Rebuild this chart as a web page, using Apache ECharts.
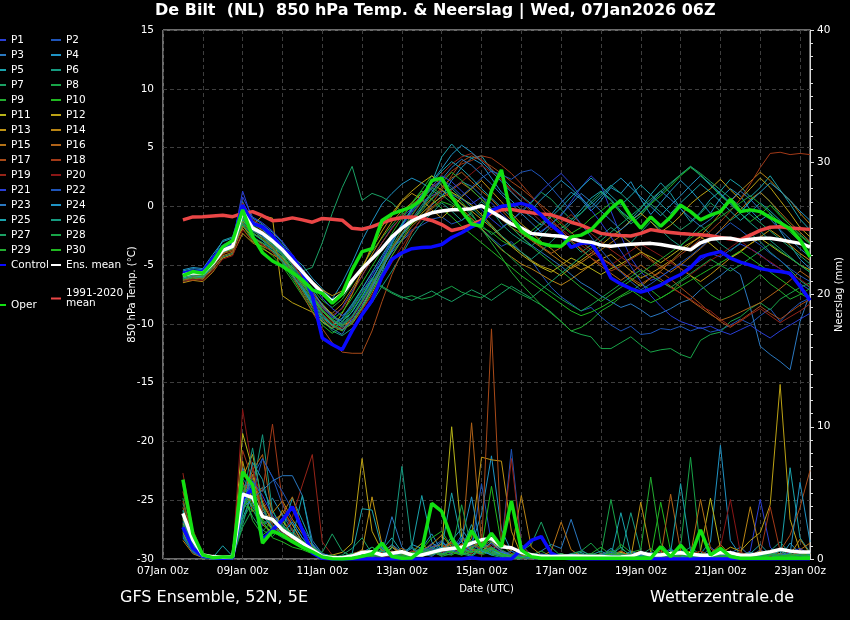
<!DOCTYPE html>
<html><head><meta charset="utf-8">
<script src="https://cdn.jsdelivr.net/npm/echarts@6/dist/echarts.min.js"></script>
<style>html,body{margin:0;padding:0;background:#000;}#c{width:850px;height:620px;}</style>
</head><body><div id="c"></div>
<script>
// lead time in hours from 07Jan2026 00Z
const leadHours = [12,18,24,30,36,42,48,54,60,66,72,78,84,90,96,102,108,114,120,126,132,138,144,150,156,162,168,174,180,186,192,198,204,210,216,222,228,234,240,246,252,258,264,270,276,282,288,294,300,306,312,318,324,330,336,342,348,354,360,366,372,378,384,390];
const xTickLabels = ['07Jan 00z','09Jan 00z','11Jan 00z','13Jan 00z','15Jan 00z','17Jan 00z','19Jan 00z','21Jan 00z','23Jan 00z'];
const memberNames = ['P1','P2','P3','P4','P5','P6','P7','P8','P9','P10','P11','P12','P13','P14','P15','P16','P17','P18','P19','P20','P21','P22','P23','P24','P25','P26','P27','P28','P29','P30'];
const memberColors = ['#2a3fd6','#1f55b8','#2a78c0','#1f93c4','#1aa3ac','#169a80','#1aa064','#18a448','#22ac30','#20b820','#b8b418','#bca214','#bf9414','#b98414','#b47216','#b06218','#a84a18','#a23a18','#962418','#8a1616','#2a3fd6','#1f55b8','#2a78c0','#1f93c4','#1aa3ac','#169a80','#1aa064','#18a448','#22ac30','#20b820'];

// 850 hPa temperature (°C)
const climateMean = [-1.15,-0.9,-0.88,-0.82,-0.76,-0.88,-0.6,-0.45,-0.8,-1.22,-1.16,-0.98,-1.15,-1.35,-1.03,-1.1,-1.18,-1.87,-1.95,-1.73,-1.4,-1.12,-0.95,-0.9,-1.0,-1.2,-1.55,-2.05,-1.85,-1.55,-1.2,-0.55,-0.3,-0.26,-0.42,-0.55,-0.65,-0.72,-1.0,-1.35,-1.6,-1.95,-2.3,-2.42,-2.48,-2.52,-2.3,-1.98,-2.12,-2.22,-2.32,-2.38,-2.42,-2.5,-2.65,-2.78,-2.85,-2.45,-2.05,-1.78,-1.73,-1.85,-1.9,-1.96];
const ensMeanT = [-5.85,-5.65,-5.7,-4.85,-3.75,-3.4,-0.45,-1.85,-2.3,-2.95,-3.7,-4.65,-5.55,-6.5,-7.35,-8.1,-7.45,-6.3,-5.3,-4.45,-3.6,-2.6,-1.85,-1.25,-0.85,-0.55,-0.4,-0.3,-0.27,-0.2,0.05,-0.45,-0.95,-1.5,-1.85,-2.3,-2.4,-2.48,-2.55,-2.75,-2.95,-3.05,-3.3,-3.4,-3.3,-3.22,-3.18,-3.15,-3.25,-3.4,-3.55,-3.7,-3.1,-2.8,-2.72,-2.72,-2.9,-2.8,-2.72,-2.72,-2.85,-3.0,-3.15,-3.45];
const controlT = [-5.7,-5.55,-5.55,-4.45,-3.45,-3.0,0.1,-1.45,-1.75,-2.5,-3.6,-4.25,-5.65,-7.6,-11.2,-11.75,-12.2,-10.6,-9.2,-8.0,-6.0,-4.5,-3.95,-3.6,-3.5,-3.45,-3.25,-2.65,-2.25,-1.75,-1.35,-0.35,0.0,0.1,0.25,0.0,-0.75,-1.6,-2.3,-3.5,-3.15,-3.1,-4.4,-6.1,-6.6,-7.0,-7.3,-7.05,-6.7,-6.2,-5.8,-5.2,-4.3,-4.05,-3.85,-4.4,-4.75,-5.0,-5.3,-5.45,-5.55,-5.7,-6.8,-8.0];
const operT = [-5.9,-5.55,-5.7,-4.75,-3.45,-2.9,-0.3,-2.55,-3.95,-4.65,-5.1,-5.65,-6.25,-7.1,-7.4,-8.25,-7.45,-5.4,-3.85,-3.6,-1.2,-0.65,-0.35,-0.05,0.6,2.2,2.4,0.8,-0.4,-1.5,-1.7,1.3,3.1,-0.9,-2.1,-2.7,-3.15,-3.35,-3.4,-2.6,-2.45,-2.0,-1.1,-0.2,0.5,-0.85,-1.85,-0.9,-1.7,-0.9,0.1,-0.45,-1.15,-0.75,-0.45,0.6,-0.45,-0.3,-0.45,-0.95,-1.4,-1.9,-2.85,-4.3];

const tP1 = [-5.6,-5.4,-5.8,-4.6,-3.5,-3.1,1.3,-1.2,-1.9,-2.8,-3.6,-4.9,-6.0,-7.3,-8.4,-9.5,-8.6,-7.2,-5.9,-4.4,-3.1,-1.8,-0.9,-0.2,0.4,0.9,1.3,1.0,0.6,0.2,0.8,0.3,-0.6,-1.4,-2.0,-2.6,-2.1,-1.5,-0.8,0.4,1.6,2.6,1.8,-0.4,-2.5,-4.4,-5.6,-6.3,-6.0,-5.4,-4.9,-5.2,-4.6,-4.0,-4.3,-3.7,-3.2,-3.6,-4.1,-4.8,-5.3,-5.9,-6.6,-7.1];
const tP2 = [-6.1,-5.8,-5.6,-5.1,-3.9,-3.6,-0.9,-2.4,-2.6,-3.3,-4.4,-5.2,-6.4,-7.8,-9.1,-10.2,-9.6,-8.4,-7.0,-5.7,-4.8,-3.6,-2.8,-2.0,-1.6,-1.1,-0.9,-1.5,-1.2,-0.6,-1.9,-2.7,-3.4,-3.0,-3.9,-4.6,-5.8,-6.9,-7.7,-8.3,-8.9,-8.6,-9.4,-10.1,-10.6,-10.2,-10.9,-10.8,-10.4,-10.5,-10.2,-10.6,-10.3,-10.7,-10.5,-10.1,-9.6,-10.0,-9.3,-8.7,-9.8,-8.9,-8.2,-7.8];
const tP3 = [-5.8,-5.7,-5.9,-5.0,-3.9,-3.2,-1.1,-1.7,-2.5,-3.5,-4.6,-5.5,-6.9,-8.2,-9.8,-10.4,-10.9,-9.5,-8.1,-6.8,-5.2,-3.9,-2.9,-2.2,-1.0,0.1,0.9,1.5,2.1,1.7,0.9,-0.2,-1.0,-1.8,-2.6,-3.3,-3.9,-4.5,-5.1,-5.8,-6.5,-7.0,-7.6,-8.1,-8.6,-8.3,-8.8,-9.4,-9.1,-8.7,-8.2,-7.9,-7.1,-6.5,-5.9,-5.2,-5.8,-8.6,-11.9,-12.6,-13.2,-13.9,-9.8,-7.4];
const tP4 = [-5.5,-5.3,-5.4,-4.3,-3.3,-2.9,0.4,-1.3,-1.6,-2.2,-3.1,-4.3,-5.0,-6.1,-7.0,-7.9,-6.5,-4.8,-2.9,-1.3,0.2,1.1,1.9,2.4,2.0,1.4,0.8,2.2,3.3,4.1,3.6,2.4,1.2,0.5,-0.3,-0.9,-1.6,-0.7,0.3,1.2,0.6,-0.4,0.5,1.6,1.1,2.1,0.6,-0.7,0.3,1.3,2.2,1.4,0.4,-0.6,0.7,1.5,0.9,-0.3,-1.2,-0.6,-2.1,-3.3,-4.5,-5.3];
const tP5 = [-6.0,-5.9,-5.6,-4.4,-2.9,-2.6,-0.2,-1.5,-2.0,-2.7,-3.9,-4.7,-6.3,-7.6,-8.8,-9.7,-10.3,-9.9,-8.7,-7.1,-5.6,-3.2,-1.5,-0.3,0.8,2.0,4.2,5.3,4.4,4.1,4.3,3.1,2.5,1.6,0.9,0.2,-0.6,-1.4,-1.9,-1.2,-0.3,0.7,1.3,0.6,-0.4,-1.1,-0.2,1.0,2.0,1.1,-0.2,-1.3,-0.5,0.6,1.3,2.3,1.7,0.8,1.6,2.6,1.4,0.2,-1.1,-2.0];
const tP6 = [-6.4,-6.2,-6.0,-5.3,-4.3,-4.0,-1.5,-2.8,-3.1,-3.6,-4.3,-5.6,-6.9,-8.4,-9.6,-10.6,-11.0,-10.4,-9.3,-8.2,-6.8,-5.5,-4.1,-2.6,-1.4,-0.6,0.3,-0.4,-1.2,-0.5,0.4,-0.3,-1.5,-2.3,-2.9,-3.4,-2.6,-1.7,-2.2,-3.0,-3.9,-3.3,-2.5,-1.8,-2.4,-3.1,-2.2,-1.3,-2.0,-2.8,-3.4,-2.5,-1.6,-2.4,-3.2,-3.8,-3.1,-2.3,-3.0,-3.9,-4.6,-5.4,-6.3,-6.9];
const tP7 = [-5.9,-5.5,-5.8,-4.7,-3.4,-3.3,-0.8,-2.2,-2.9,-3.4,-4.1,-4.8,-5.5,-5.2,-3.1,-0.6,1.6,3.4,0.5,1.1,0.8,0.3,-0.5,-1.2,-0.4,0.6,1.4,0.9,0.2,-0.8,-1.6,-2.4,-1.9,-1.2,-0.5,0.3,1.2,0.6,-0.3,-1.1,-0.6,0.4,1.2,0.5,-0.6,-1.5,-0.8,0.2,-0.5,-1.3,-2.0,-1.4,-0.6,0.3,-0.4,-1.2,-0.6,0.5,1.2,0.4,-0.7,-1.6,-2.4,-3.1];
const tP8 = [-6.2,-6.0,-5.9,-5.2,-3.8,-3.5,-1.2,-2.5,-3.3,-3.9,-4.8,-6.1,-7.4,-8.7,-9.9,-10.4,-9.8,-8.5,-7.1,-6.3,-6.9,-7.4,-7.8,-7.6,-7.9,-7.7,-7.2,-6.8,-7.3,-7.6,-7.8,-7.2,-6.6,-7.0,-7.5,-7.9,-8.4,-9.0,-9.8,-10.6,-10.9,-11.1,-12.1,-12.1,-11.6,-11.1,-11.8,-12.4,-12.2,-12.1,-12.6,-12.9,-11.4,-10.9,-10.7,-9.8,-9.4,-8.7,-8.2,-8.8,-7.9,-7.4,-6.9,-6.5];
const tP9 = [-5.7,-5.6,-5.5,-4.5,-3.6,-3.0,-0.1,-1.9,-2.4,-3.2,-4.0,-5.0,-5.9,-7.0,-8.0,-8.6,-7.9,-6.6,-5.1,-3.8,-2.7,-1.6,-0.6,0.3,1.4,2.6,2.1,1.2,0.4,-0.6,-1.9,-3.1,-4.3,-5.6,-6.6,-7.5,-8.4,-9.1,-9.8,-10.6,-10.3,-9.7,-8.9,-8.4,-7.7,-7.3,-6.6,-7.1,-7.8,-7.3,-6.4,-5.9,-6.7,-7.5,-8.0,-7.6,-7.1,-6.5,-5.8,-6.6,-7.2,-7.9,-7.5,-7.0];
const tP10 = [-6.3,-6.1,-6.2,-5.0,-3.9,-3.5,-1.6,-2.9,-3.5,-4.2,-5.1,-6.3,-7.6,-8.9,-10.1,-10.8,-10.2,-8.9,-7.6,-6.2,-4.7,-3.5,-2.4,-1.5,-0.8,-0.2,0.4,0.1,-0.5,-1.1,-1.8,-2.2,-2.9,-3.4,-2.8,-2.1,-1.4,-0.8,-1.6,-2.3,-1.8,-1.0,-0.4,0.3,-0.5,-1.2,-0.6,0.2,0.9,1.7,2.6,3.3,2.7,1.8,0.9,0.2,-0.6,-1.3,-0.7,0.1,-0.8,-1.6,-2.5,-3.2];
const tP11 = [-5.8,-5.7,-6.0,-4.8,-3.6,-3.3,-1.9,-3.0,-3.4,-3.8,-4.3,-5.5,-6.5,-7.4,-8.3,-9.2,-10.1,-9.8,-8.6,-6.9,-5.3,-3.7,-2.4,-1.5,-0.6,0.2,0.8,1.2,0.7,0.1,-0.7,-1.6,-2.5,-3.4,-4.1,-4.7,-5.2,-5.6,-5.0,-4.4,-4.8,-5.3,-5.8,-5.3,-4.9,-4.4,-3.9,-4.3,-4.8,-4.2,-3.6,-3.1,-2.6,-3.2,-3.9,-4.4,-3.8,-3.2,-2.7,-3.3,-3.9,-4.4,-5.0,-5.4];
const tP12 = [-6.1,-5.8,-5.9,-4.9,-4.0,-3.6,-1.3,-1.6,-0.8,-1.0,-7.6,-8.2,-8.6,-9.0,-9.8,-10.4,-9.1,-7.5,-5.4,-3.3,-1.7,-0.6,0.5,1.3,2.0,2.6,1.8,0.9,0.2,-0.4,-1.1,-1.8,-2.6,-3.3,-3.9,-4.6,-5.1,-5.4,-5.9,-5.2,-4.6,-4.0,-3.3,-2.6,-2.0,-1.2,-0.6,-1.3,-2.2,-1.6,-0.8,0.2,0.9,1.5,2.3,1.4,0.6,1.5,2.4,1.6,0.5,-0.6,-1.8,-2.6];
const tP13 = [-6.5,-6.3,-6.4,-5.6,-4.4,-4.1,-2.3,-3.1,-3.6,-4.1,-4.6,-5.2,-5.9,-6.4,-7.1,-7.6,-7.2,-6.4,-5.2,-3.6,-2.1,-0.8,0.4,1.1,0.6,-0.3,-1.0,-0.2,0.8,1.5,2.2,1.3,0.4,-0.6,-1.5,-2.2,-3.0,-3.6,-4.4,-4.9,-5.4,-5.0,-4.5,-4.1,-4.8,-5.5,-6.1,-5.7,-5.2,-4.6,-5.3,-5.9,-6.4,-5.8,-5.1,-4.4,-3.9,-3.2,-2.6,-2.0,-2.6,-3.3,-4.0,-4.6];
const tP14 = [-5.9,-6.1,-5.8,-4.6,-3.8,-3.7,-1.0,-2.0,-2.7,-3.5,-4.4,-5.4,-6.6,-7.7,-8.6,-9.1,-8.3,-7.0,-5.6,-4.1,-2.6,-1.3,-0.4,0.3,1.1,1.9,1.4,0.6,-0.2,-1.0,-1.9,-2.8,-3.7,-4.3,-4.9,-5.3,-5.8,-6.3,-6.7,-6.2,-5.6,-5.0,-4.4,-4.9,-5.5,-6.2,-6.8,-6.1,-5.5,-4.7,-3.9,-3.2,-2.5,-1.6,-0.6,0.4,1.3,2.1,2.9,2.2,1.3,0.5,-0.6,-1.5];
const tP15 = [-6.0,-5.9,-6.1,-5.4,-4.2,-3.9,-1.7,-2.6,-3.2,-3.9,-4.7,-5.6,-6.8,-7.9,-8.9,-9.8,-10.5,-10.0,-8.8,-7.4,-5.8,-4.2,-2.9,-1.7,-0.9,-0.1,0.6,1.4,2.0,1.4,0.6,-0.2,-1.1,-1.8,-2.3,-2.9,-3.5,-4.1,-4.7,-5.3,-4.8,-4.2,-3.7,-3.1,-2.5,-3.1,-3.8,-4.5,-5.1,-5.6,-5.0,-4.3,-3.6,-2.8,-2.0,-1.1,-0.3,0.6,1.2,0.4,-0.5,-1.4,-2.2,-3.0];
const tP16 = [-6.3,-6.0,-6.2,-5.1,-4.1,-3.4,-1.4,-2.3,-2.8,-3.6,-4.5,-5.8,-7.2,-8.6,-9.5,-10.2,-10.6,-9.4,-8.1,-6.6,-5.1,-3.6,-2.3,-1.1,-0.2,0.7,1.6,2.4,2.9,2.1,1.3,0.6,-0.3,-1.2,-2.0,-2.8,-3.4,-4.0,-3.5,-2.9,-3.6,-4.4,-5.1,-5.7,-6.3,-5.7,-5.0,-5.6,-6.2,-6.8,-7.4,-8.0,-8.6,-9.2,-9.7,-9.4,-9.0,-8.6,-8.2,-7.6,-7.0,-6.3,-5.5,-6.1];
const tP17 = [-6.2,-6.3,-6.1,-5.2,-4.0,-3.8,-0.6,-1.6,-2.4,-3.4,-4.5,-5.9,-7.5,-9.0,-10.4,-11.6,-12.4,-12.5,-12.5,-10.6,-8.1,-5.8,-3.9,-2.2,-1.0,0.2,1.4,2.6,3.8,4.3,3.9,3.4,2.8,2.1,1.5,0.8,0.1,-0.6,-1.4,-2.2,-3.0,-3.7,-4.4,-5.0,-5.6,-6.1,-6.6,-6.1,-5.6,-6.2,-6.9,-7.6,-8.3,-9.1,-9.8,-10.3,-9.7,-9.1,-8.5,-9.1,-9.6,-9.0,-8.4,-7.9];
const tP18 = [-6.0,-5.8,-6.0,-4.9,-3.7,-3.5,-0.3,-1.4,-2.1,-2.9,-3.8,-4.9,-6.0,-7.3,-8.5,-9.3,-8.7,-7.4,-5.9,-4.5,-3.1,-1.9,-0.8,0.1,0.9,1.6,2.2,3.0,3.6,3.9,4.3,4.1,3.5,2.8,1.9,0.9,-0.1,-1.1,-2.0,-2.9,-3.7,-4.4,-4.9,-5.5,-5.1,-4.5,-4.0,-4.6,-5.3,-4.8,-4.1,-3.5,-2.8,-2.1,-1.3,-0.4,0.6,1.9,3.3,4.5,4.6,4.4,4.5,4.4];
const tP19 = [-5.7,-5.5,-5.7,-4.5,-3.5,-3.0,0.3,-1.1,-1.7,-2.6,-3.7,-4.8,-6.1,-7.5,-8.7,-9.6,-10.2,-9.5,-8.2,-6.7,-5.1,-3.5,-2.0,-0.8,0.4,1.6,2.7,3.6,4.2,4.5,4.0,3.2,2.3,1.3,0.4,-0.5,-1.3,-2.0,-1.4,-0.7,-1.5,-2.3,-3.0,-3.7,-4.3,-4.9,-5.4,-5.9,-6.4,-6.9,-7.4,-7.9,-8.5,-8.9,-9.6,-10.2,-9.8,-9.2,-8.7,-9.3,-9.9,-9.4,-8.9,-8.3];
const tP20 = [-6.4,-6.2,-6.3,-5.5,-4.5,-4.2,-2.0,-2.9,-3.3,-3.9,-4.7,-5.7,-6.8,-8.0,-9.1,-9.9,-10.4,-9.8,-8.8,-7.6,-6.2,-4.8,-3.4,-2.1,-1.1,-0.2,0.6,1.4,2.1,2.8,3.5,2.9,2.2,1.5,0.8,0.1,-0.6,-1.3,-1.9,-2.6,-3.3,-3.9,-4.5,-5.0,-4.4,-3.8,-3.2,-3.7,-4.2,-4.8,-5.3,-5.8,-5.2,-4.6,-4.1,-3.5,-2.9,-3.6,-4.2,-4.7,-5.3,-5.8,-6.2,-6.8];
const tP21 = [-5.6,-5.5,-5.6,-4.4,-3.3,-2.9,0.8,-0.9,-1.4,-2.1,-3.0,-4.1,-5.3,-6.6,-7.8,-8.7,-9.3,-8.6,-7.3,-5.9,-4.4,-2.9,-1.7,-0.5,0.6,1.7,2.6,2.1,1.3,0.5,-0.3,-1.1,-1.8,-1.2,-0.4,0.4,1.3,2.1,2.8,1.9,0.8,-0.3,-1.4,-2.6,-3.8,-5.1,-6.4,-7.6,-8.5,-9.3,-9.8,-10.1,-10.4,-10.2,-10.6,-10.9,-10.5,-10.1,-10.7,-11.2,-10.6,-10.1,-9.6,-9.1];
const tP22 = [-6.0,-5.8,-5.7,-4.8,-3.6,-3.4,-0.7,-2.0,-2.5,-3.2,-4.0,-5.0,-6.2,-7.5,-8.6,-9.4,-10.0,-9.3,-7.9,-6.3,-4.6,-3.0,-1.6,-0.4,0.6,1.5,2.3,1.7,0.9,1.6,2.4,3.0,2.7,2.3,2.9,3.1,2.5,1.6,0.6,-0.4,-1.5,-2.6,-3.7,-4.7,-5.6,-6.4,-7.1,-6.6,-6.0,-5.4,-4.8,-4.2,-3.5,-2.8,-2.1,-1.4,-2.0,-2.7,-3.3,-4.0,-4.6,-5.3,-5.9,-6.4];
const tP23 = [-5.9,-5.6,-5.8,-4.7,-3.7,-3.2,-0.4,-1.8,-2.3,-3.1,-4.1,-5.4,-6.8,-8.1,-9.3,-10.1,-10.5,-9.7,-8.4,-6.9,-5.3,-3.8,-2.5,-1.3,-0.1,1.2,2.3,3.3,4.0,3.5,2.7,1.9,1.0,0.2,-0.6,-1.4,-2.2,-1.5,-0.7,0.2,1.1,0.4,-0.4,-1.2,-2.0,-1.3,-0.5,0.4,1.3,0.6,-0.2,-1.0,-1.7,-1.1,-0.3,0.5,1.3,0.6,-0.3,-1.1,-2.0,-2.8,-3.6,-4.3];
const tP24 = [-5.4,-5.2,-5.3,-4.1,-3.0,-2.7,0.1,-1.0,-1.5,-2.4,-3.3,-4.5,-5.8,-7.1,-8.4,-9.3,-9.8,-9.0,-7.7,-6.2,-4.7,-3.1,-1.6,-0.2,1.0,2.1,3.2,4.4,5.2,4.6,3.8,3.0,2.1,1.2,0.4,-0.3,0.6,1.4,2.2,1.5,0.7,-0.1,0.8,1.7,2.4,1.6,0.8,0.0,-0.8,0.1,0.9,1.8,2.6,1.9,1.1,0.3,-0.5,0.4,1.2,2.0,1.3,0.5,-0.4,-1.2];
const tP25 = [-6.1,-5.9,-6.0,-5.0,-3.8,-3.5,-1.1,-2.3,-2.9,-3.7,-4.6,-5.8,-7.0,-8.3,-9.4,-10.1,-9.5,-8.3,-7.0,-5.6,-4.2,-2.8,-1.5,-0.2,0.9,2.0,3.0,3.8,3.2,2.4,1.5,0.7,-0.1,-0.9,-1.7,-2.4,-1.7,-0.9,-0.1,0.8,1.6,2.4,1.7,0.9,0.1,0.9,1.8,1.0,0.2,-0.6,0.3,1.1,1.9,1.2,0.4,-0.4,-1.2,-0.5,0.3,-0.4,-1.2,-2.0,-2.8,-3.5];
const tP26 = [-5.8,-5.6,-5.9,-4.9,-3.6,-3.3,-0.9,-2.1,-2.6,-3.3,-4.2,-5.3,-6.5,-7.8,-8.9,-9.7,-10.2,-9.4,-8.1,-6.7,-5.2,-3.7,-2.4,-1.1,0.1,1.2,2.2,1.5,0.7,-0.1,-0.9,-1.7,-2.5,-3.2,-3.9,-4.5,-3.8,-3.0,-2.2,-1.4,-0.6,0.2,1.0,1.8,1.1,0.3,-0.5,0.3,1.1,1.9,2.7,3.4,2.6,1.8,1.0,0.2,-0.6,-1.4,-2.1,-2.9,-3.6,-4.3,-5.0,-5.6];
const tP27 = [-6.2,-6.0,-6.1,-5.1,-3.9,-3.6,-1.4,-2.6,-3.1,-3.8,-4.7,-5.9,-7.1,-8.4,-9.6,-10.4,-9.9,-8.7,-7.4,-6.1,-6.8,-7.3,-7.7,-8.0,-7.6,-7.2,-7.7,-8.1,-7.6,-7.1,-7.5,-8.0,-7.4,-6.8,-7.3,-7.8,-7.1,-6.4,-5.7,-5.0,-4.3,-3.6,-2.9,-2.2,-1.5,-0.8,-0.1,0.6,1.3,2.0,2.7,3.4,2.8,2.1,1.4,0.7,0.0,-0.7,-1.4,-2.1,-2.8,-3.5,-4.2,-4.9];
const tP28 = [-5.7,-5.5,-5.6,-4.6,-3.4,-3.1,-0.5,-1.6,-2.2,-3.0,-3.9,-5.1,-6.3,-7.6,-8.8,-9.6,-10.1,-9.4,-8.0,-6.5,-5.0,-3.4,-2.0,-0.7,0.5,1.6,1.0,0.3,-0.4,-1.2,-2.0,-2.8,-3.6,-4.4,-5.2,-6.0,-6.7,-7.3,-7.9,-8.4,-8.9,-8.4,-7.8,-7.2,-6.6,-6.0,-5.4,-5.9,-6.4,-6.9,-6.3,-5.7,-5.1,-4.5,-5.0,-5.5,-5.0,-4.4,-3.8,-3.2,-3.8,-4.4,-5.0,-5.6];
const tP29 = [-6.0,-5.8,-5.9,-4.8,-3.7,-3.4,-1.0,-2.3,-2.8,-3.5,-4.4,-5.5,-6.7,-8.0,-9.2,-10.0,-10.6,-9.9,-8.6,-7.2,-5.7,-4.2,-2.8,-1.4,-0.2,1.0,2.0,2.9,2.2,1.4,0.6,-0.2,-1.0,-1.8,-2.6,-3.4,-4.1,-4.8,-5.5,-6.2,-6.9,-7.5,-8.1,-7.5,-6.9,-6.3,-5.7,-5.1,-4.5,-3.9,-3.3,-2.7,-2.1,-1.5,-0.9,-0.3,0.3,0.9,0.2,-0.6,-1.4,-2.2,-3.0,-3.7];
const tP30 = [-5.9,-5.7,-5.8,-4.7,-3.5,-3.2,-0.6,-1.9,-2.4,-3.2,-4.1,-5.3,-6.5,-7.7,-8.9,-9.6,-9.0,-7.8,-6.5,-5.1,-3.7,-2.3,-1.0,0.2,1.3,0.6,-0.2,-0.9,-1.7,-2.4,-3.1,-3.8,-4.5,-5.2,-5.9,-6.5,-7.1,-7.7,-8.3,-8.9,-9.3,-9.0,-8.6,-8.1,-7.6,-7.1,-7.7,-8.2,-7.8,-7.3,-6.8,-6.3,-5.8,-5.3,-4.8,-4.3,-3.8,-4.4,-5.0,-5.6,-6.2,-6.8,-7.4,-7.9];

// precipitation (mm per 6 h)
const ensMeanR = [3.45,1.45,0.3,0.18,0.13,0.18,4.9,4.65,3.2,3.0,2.2,1.7,1.2,0.7,0.2,0.1,0.1,0.22,0.5,0.55,0.3,0.43,0.55,0.3,0.3,0.5,0.7,0.8,0.88,1.2,1.45,1.55,0.93,0.85,0.5,0.32,0.2,0.18,0.2,0.22,0.2,0.18,0.18,0.13,0.15,0.2,0.48,0.3,0.3,0.42,0.48,0.38,0.28,0.28,0.48,0.48,0.28,0.28,0.42,0.55,0.73,0.6,0.53,0.53];
const controlR = [2.4,0.8,0.2,0.1,0.05,0.1,4.6,5.3,1.45,2.2,2.95,3.95,2.2,0.45,0.05,0,0,0,0,0,0,0,0,0,0,0,0,0,0,0.1,0,0,0,0,0.7,1.4,1.7,0.45,0.1,0,0,0,0,0,0,0,0,0,0,0,0,0,0,0,0,0,0,0,0,0,0,0,0,0];
const operR = [6.0,1.9,0.3,0.1,0.15,0.15,6.6,5.6,1.2,2.1,1.8,1.3,0.9,0.55,0.15,0.02,0,0.05,0.2,0.4,1.2,0.18,0.05,0.08,0.68,4.2,3.6,1.55,0.45,2.15,0.93,1.95,0.93,4.4,0.68,0.18,0.05,0.05,0.05,0.05,0.05,0.05,0.05,0.05,0.05,0.05,0.05,0.05,0.93,0.18,1.05,0.18,2.2,0.3,0.8,0.18,0.05,0.05,0.05,0.05,0.05,0.05,0.05,0.05];

const rP1 = [2.8,0.9,0.2,0.1,0,0.1,5.8,4.4,2.5,3.1,2.0,1.4,0.9,0.4,0.1,0,0,0.1,0.3,0.6,0.2,0.9,0.4,0.2,0.5,1.2,0.8,0.3,1.6,0.7,0.4,1.1,0.6,0.2,0.1,0,0,0.2,0,0.1,0,0.4,0.1,0,0.2,0.6,0.1,0,0.3,0.8,0.2,0,0.1,0.9,0.3,0,0.2,0.6,4.5,0.9,0.1,0.3,0.5,0.2];
const rP2 = [1.9,0.6,0.1,0,0,0,3.9,6.3,7.6,6.2,4.1,2.8,1.6,0.8,0.2,0.1,0,0,0.2,0.4,0.1,0.3,0.2,0.6,0.3,0.9,1.4,0.6,1.8,0.9,5.7,1.2,0.8,8.3,1.1,0.3,0.1,0,0,0,0.1,0,0.3,0.8,0.2,0,0.1,0.4,0.2,0,0.6,0.2,0,0.3,0.1,0,0,0.2,0.7,0.3,0,0.1,0.4,0.2];
const rP3 = [3.3,1.2,0.2,0.1,0.1,0.2,4.4,5.8,3.6,2.7,3.4,2.1,1.3,0.6,0.3,0.1,0,0.2,0.5,0.9,0.4,3.2,0.9,0.3,0.4,0.2,0.7,1.3,0.5,0.8,1.5,0.6,0.3,0.1,0,0.2,0.6,1.1,0.8,3.0,0.7,0.2,0,0.1,0.4,0.2,0,0.1,0.5,0.2,0,0.1,0.3,0.1,0,0.4,0.9,0.2,0.1,0.5,0.3,0.1,0.6,0.2];
const rP4 = [2.5,0.7,0.1,0,0,0.1,6.9,5.1,3.9,4.6,3.3,2.6,1.2,0.5,0.2,0.3,0.1,0,0.2,0.1,0.3,0.5,0.2,1.1,0.8,1.9,0.6,1.4,2.3,1.1,3.4,7.8,2.2,0.6,0.2,0,0.1,0,0.2,0,0.1,0,0.2,0.4,0.1,0.6,0.3,0,0.2,0.7,0.3,0.1,0.4,1.3,8.6,1.4,0.3,0.1,0.6,0.2,0.1,1.2,0.4,0.3];
const rP5 = [1.6,0.5,0.2,0.1,0,0,3.1,4.9,5.4,3.7,2.2,4.6,2.9,1.1,0.4,0.2,0.1,0,0.4,0.2,0.7,1.6,0.5,0.9,4.8,1.3,0.5,1.7,0.8,2.6,1.0,0.4,0.6,0.2,0.1,0,0.3,0.1,0,0.2,0.5,0.1,0,0.3,0.9,0.2,0,0.1,0.3,0.1,0.6,0.2,0,0.4,0.9,0.3,0.1,0.4,1.1,0.3,0.2,6.9,1.6,0.5];
const rP6 = [4.2,1.8,0.3,0.2,0.1,0.1,2.6,5.3,9.4,3.6,2.4,1.9,1.1,0.5,0.1,0,0.2,0.4,0.1,0.6,1.2,0.3,0.1,0.4,0.9,0.3,0.6,1.1,0.4,0.2,0.7,0.3,0.1,0.2,0.5,0.1,0,0.3,0.1,0,0.2,0.4,0.1,0.8,0.3,3.5,0.6,0.2,0.1,0.3,0.7,0.2,0,0.2,0.5,0.1,0.4,0.2,0.1,0.6,1.3,0.4,0.2,0.1];
const rP7 = [3.6,1.1,0.2,0.1,0.2,0.1,4.8,3.2,2.1,2.9,1.7,2.3,1.0,0.6,0.2,0.1,0.3,0.8,1.6,0.4,0.2,0.6,0.3,0.1,0.6,0.4,1.2,0.8,0.3,0.5,0.9,1.4,0.7,0.3,0.6,1.1,2.8,0.9,0.2,0.1,0.4,0.1,0.3,0.2,0.5,0.1,0.3,0.8,0.2,0.1,0.4,0.9,0.3,0.1,0.2,0.6,0.2,0.1,0.3,0.2,0.7,0.3,0.1,0.2];
const rP8 = [4.6,1.4,0.2,0.1,0.1,0.2,3.4,6.1,4.2,2.1,1.6,1.3,0.8,0.6,0.2,0.1,0,0.1,0.3,0.2,0.1,0.4,0.2,0.1,0.3,0.6,0.2,0.4,0.9,1.4,0.5,0.8,0.2,0.1,0,0.4,0.2,0.1,0,0.3,0.6,1.2,0.4,4.5,0.8,0.3,0.2,0.1,0.4,0.2,0.9,7.7,0.6,0.2,0.1,0.3,0.5,0.2,0.1,0.4,0.2,0.1,0.3,0.2];
const rP9 = [2.2,0.8,0.1,0,0,0.1,5.4,2.9,1.8,2.4,3.1,1.7,1.2,0.4,0.2,0.2,0.1,0.3,0.2,0.9,0.4,0.2,0.6,0.3,0.2,0.4,0.9,0.5,1.1,0.8,0.3,0.6,0.4,0.2,0.1,0.3,0.6,0.2,0.1,0,0.2,0.4,0.9,0.3,1.1,0.5,0.7,6.2,1.2,0.3,0.1,0.2,0.6,0.3,0.1,0.4,0.2,0.1,0.5,0.3,0.1,0.2,0.6,0.3];
const rP10 = [3.1,1.0,0.2,0.1,0.1,0,4.1,3.7,2.8,1.9,2.4,1.6,1.4,0.7,0.3,0.1,0,0.2,0.4,0.2,0.8,0.3,0.1,0.5,0.7,1.6,2.1,0.9,0.4,1.3,0.8,5.5,1.1,0.4,0.2,0.1,0,0.2,0.4,0.1,0.3,0.1,0.2,0.6,0.2,0.1,0.5,0.2,4.3,0.6,0.2,0.4,0.1,0.3,0.2,0.1,0.3,0.5,0.2,0.1,0.4,0.2,0.1,0.3];
const rP11 = [2.7,0.9,0.1,0,0.1,0.1,9.5,6.8,3.4,2.2,2.9,1.8,1.1,0.5,0.1,0,0.2,0.1,0.4,0.6,0.2,0.9,0.3,0.5,1.2,0.4,0.9,10.0,1.7,0.8,0.5,1.3,0.6,0.3,0.1,0.2,0,0.1,0.4,0.2,0.1,0.3,0.2,0.1,0.5,0.3,0.1,0.2,0.4,0.2,0.1,0.3,0.6,4.6,0.8,0.2,0.1,0.3,0.2,0.6,0.4,0.2,0.1,0.5];
const rP12 = [2.0,0.6,0.1,0.1,0,0.1,6.2,7.9,4.3,2.8,2.3,1.7,0.9,0.4,0.2,0.3,0.5,1.2,7.6,2.1,0.6,0.3,0.2,0.4,0.8,0.5,0.3,0.6,1.1,0.7,0.4,0.9,0.3,0.2,0.1,0,0.2,0.1,0,0.3,0.2,0.1,0.4,0.2,0.1,0.3,0.6,0.2,0.1,0.3,0.2,0.5,0.1,0.2,0.4,0.9,0.6,1.4,2.0,4.1,13.2,3.0,0.6,0.3];
const rP13 = [3.0,1.3,0.2,0.1,0,0.1,7.4,4.2,2.6,2.0,3.7,2.6,1.3,0.7,0.3,0.1,0.1,0.4,0.6,4.7,1.1,0.3,0.5,0.2,0.6,1.1,1.8,0.9,0.4,1.6,7.7,7.5,7.4,2.1,0.3,0.2,0.1,0,0.2,0.1,0.3,0.2,0.1,0.4,0.2,0.1,4.3,0.5,0.2,0.1,0.3,0.6,0.2,0.1,0.4,0.2,0.1,0.3,0.6,0.2,0.1,0.4,0.2,0.1];
const rP14 = [1.4,0.4,0.1,0,0,0,5.0,6.4,3.0,3.5,4.4,3.0,1.9,1.0,0.4,0.1,0,0.2,0.1,0.3,0.6,1.0,0.4,0.2,0.6,0.3,0.8,1.2,0.5,0.3,0.9,0.7,1.3,0.6,4.8,0.9,0.3,0.1,0,0.2,0.1,0.3,0.2,0.1,0.6,0.2,0.1,0.3,0.2,0.5,0.3,0.1,0.2,0.4,1.1,0.3,0.2,3.95,0.6,0.2,0.1,0.3,1.5,0.4];
const rP15 = [2.3,0.8,0.2,0.1,0,0.1,5.9,3.6,4.1,2.9,3.4,4.7,2.3,0.9,0.3,0.2,0.1,0.3,0.7,0.4,0.2,0.5,0.8,0.3,0.4,0.7,0.3,1.4,0.6,0.9,1.3,0.5,0.3,0.2,0.1,0.4,0.2,0.6,2.8,0.7,0.2,0.1,0.3,0.1,0.2,0.4,0.1,0.3,0.6,0.2,0.1,0.3,4.5,0.8,0.2,0.1,0.3,0.5,0.2,0.1,0.4,0.2,0.7,1.2];
const rP16 = [3.9,1.5,0.3,0.1,0.1,0.2,4.6,6.7,7.9,3.2,2.1,1.5,1.2,0.6,0.2,0.1,0,0.1,0.2,0.5,0.3,0.2,0.6,0.4,0.3,0.9,1.1,0.6,0.4,10.3,1.2,0.8,0.5,0.2,0.1,0,0.2,0.1,0.3,0.1,0.2,0.4,0.1,0.3,0.6,0.2,0.1,0.3,0.2,4.9,0.6,0.2,0.1,0.3,0.5,0.2,0.1,0.3,0.2,0.6,0.2,0.1,0.4,0.3];
const rP17 = [5.1,2.0,0.3,0.2,0.1,0.1,6.4,5.5,3.8,2.6,2.0,1.4,1.0,0.5,0.2,0.1,0.2,0.1,0.3,0.2,0.4,0.6,0.3,0.5,0.7,0.4,0.9,1.2,0.6,1.1,0.8,17.4,1.3,0.4,0.2,0.1,0,0.2,0.1,0,0.1,0.3,0.2,0.1,0.4,0.2,0.6,0.1,0.3,0.2,0.1,0.4,0.2,0.1,0.3,0.6,0.2,0.4,0.1,0.3,0.6,1.8,3.9,6.7];
const rP18 = [4.4,1.6,0.2,0.1,0,0.1,8.2,6.0,5.1,10.2,4.3,2.1,1.3,0.7,0.3,0.1,0,0.2,0.3,0.1,0.5,0.4,0.2,0.6,0.3,0.8,0.5,1.0,0.7,0.4,1.6,0.9,0.4,0.2,0.1,0,0.1,0.3,0,0.2,0.1,0.2,0.4,0.1,0.2,0.3,0.1,0.4,0.2,0.1,0.3,0.2,0.6,0.2,0.1,0.3,0.5,0.2,0.4,3.95,0.6,0.2,0.1,0.3];
const rP19 = [6.5,2.2,0.4,0.2,0.1,0.1,4.9,7.1,3.3,2.4,1.9,3.2,5.6,7.9,1.3,0.3,0.1,0,0.2,0.4,0.3,0.2,0.5,0.1,0.4,0.6,0.3,0.8,1.1,0.5,0.9,1.6,0.8,7.6,1.0,0.3,0.1,0,0.2,0.1,0.2,0.1,0.3,0.6,0.2,0.1,0.4,0.2,0.1,0.3,0.2,0.1,0.4,0.2,0.6,0.2,0.1,0.2,0.5,0.2,0.1,0.3,0.2,0.4];
const rP20 = [5.6,1.9,0.3,0.1,0.1,0.2,11.3,6.7,4.5,3.0,2.2,1.8,1.1,0.6,0.2,0.1,0,0.1,0.3,0.2,0.1,0.4,0.2,0.3,0.5,0.3,0.7,0.4,0.9,0.6,0.3,1.1,0.6,0.3,0.1,0,0.2,0.1,0.3,0.1,0.2,0.1,0.3,0.2,0.4,0.1,0.2,0.3,0.1,0.4,0.2,0.3,0.6,0.2,0.9,4.5,0.5,0.2,0.1,0.3,0.2,0.6,0.3,0.1];
const rP21 = [2.6,0.8,0.1,0,0,0.1,4.2,5.9,4.8,3.3,2.6,1.9,1.0,0.5,0.1,0,0.1,0.3,0.2,0.5,0.9,0.4,0.2,0.3,0.6,1.0,0.4,0.8,1.3,0.6,0.4,0.9,0.5,0.3,0.1,0.2,0,0.1,0.2,0.4,0.2,0.1,0.3,0.5,0.2,0.1,0.3,0.2,0.4,0.2,0.1,0.3,0.2,0.5,0.3,0.1,0.2,0.4,0.3,0.1,0.2,0.5,0.8,0.3];
const rP22 = [1.7,0.5,0.1,0,0,0,6.1,5.0,7.6,6.2,5.1,3.7,2.4,1.2,0.3,0.1,0,0.2,0.3,0.1,0.4,0.2,0.6,0.3,0.5,0.8,0.3,0.7,0.4,1.1,0.6,0.4,0.3,0.6,0.2,0.1,0.4,0.2,0.1,0,0.2,0.4,0.1,0.3,0.2,0.1,0.6,0.2,0.3,0.1,0.4,0.2,0.1,0.3,0.2,0.6,0.3,0.1,0.2,0.4,0.3,0.2,0.1,0.4];
const rP23 = [3.2,1.1,0.2,0.1,0,0.1,3.8,4.6,5.2,5.9,6.3,6.3,4.8,1.4,0.4,0.2,0.1,0.3,0.6,0.2,0.4,1.1,0.5,0.2,0.4,0.7,1.3,0.6,0.9,0.5,0.8,1.2,0.6,0.3,0.2,0.1,0.3,0.2,0.4,0.1,0.2,0.1,0.4,0.2,0.1,0.3,0.2,0.5,0.3,0.2,0.1,0.4,0.3,0.2,0.6,0.2,0.1,0.3,0.2,0.1,0.4,0.2,0.3,0.2];
const rP24 = [2.4,0.7,0.1,0.1,0,0.1,5.1,3.9,3.2,2.5,1.9,2.8,1.6,0.8,0.2,0.1,0.2,0.1,0.4,0.3,0.6,0.2,0.4,0.8,0.3,0.6,0.9,0.4,1.4,4.7,0.6,0.3,0.5,0.2,0.1,0.3,0.1,0,0.2,0.1,0.3,0.2,0.1,0.2,0.4,0.1,0.3,0.2,0.1,0.4,0.2,0.1,0.3,0.2,0.1,0.4,0.2,0.5,0.3,0.1,0.2,0.4,5.8,1.3];
const rP25 = [3.7,1.3,0.2,0.1,1.0,0.2,3.5,7.3,6.0,2.9,2.2,1.6,4.8,1.0,0.3,0.1,0.2,0.4,3.8,3.7,0.8,0.3,0.2,0.4,0.6,0.4,0.8,5.0,1.3,0.6,0.4,0.7,0.3,0.2,0.1,0.4,0.2,0.1,0.3,0.2,0.1,0.3,0.6,0.2,3.5,0.4,0.2,0.1,0.3,0.5,5.7,0.6,0.2,0.1,0.3,0.2,0.1,0.4,0.2,0.3,0.6,0.2,0.1,0.3];
const rP26 = [2.9,1.0,0.2,0.1,0.1,0.1,4.5,8.4,3.9,2.3,1.7,2.0,1.2,0.7,0.2,0.1,0.1,0.2,0.5,0.3,0.2,0.8,7.0,0.9,0.4,0.3,0.6,0.9,0.5,0.3,0.7,0.4,0.2,0.3,0.1,0,0.2,0.4,0.1,0.3,0.2,0.1,0.3,0.6,0.2,0.4,0.1,0.2,0.3,0.2,0.4,0.1,0.3,0.2,0.5,0.3,0.2,0.1,0.3,0.4,0.2,0.3,0.1,0.4];
const rP27 = [1.8,0.6,0.1,0,0,0.1,3.0,4.3,2.7,3.1,2.6,1.8,1.4,0.9,0.5,1.9,0.6,0.2,0.4,0.3,0.6,0.2,0.4,0.3,0.5,0.9,0.4,0.6,0.3,0.8,1.2,0.5,0.3,0.2,0.4,0.1,0.3,0.2,0.1,0.4,0.6,0.3,0.2,0.4,0.1,0.3,0.2,0.4,0.2,0.3,0.1,0.2,0.4,0.1,0.3,0.2,0.4,0.2,0.1,0.3,0.2,0.4,0.3,0.1];
const rP28 = [3.4,1.2,0.2,0.1,0,0.1,2.4,3.8,2.2,1.7,2.5,1.9,0.9,0.4,0.2,0.1,0.2,0.4,0.3,0.6,0.2,0.5,0.3,0.2,0.9,0.5,0.3,0.6,4.1,0.8,0.6,0.9,0.4,0.2,0.1,0.3,0.2,0.1,0.4,0.2,0.3,0.2,0.1,0.6,0.4,0.2,0.1,0.3,0.2,0.4,0.3,0.1,0.2,0.3,0.1,0.2,0.3,0.1,0.2,0.4,0.1,0.3,0.2,0.4];
const rP29 = [2.1,0.7,0.1,0.1,0,0,4.0,4.7,3.0,2.2,1.8,1.4,1.2,0.5,0.2,0.3,0.1,0.2,0.5,0.3,0.2,0.4,0.6,0.3,0.5,0.6,0.4,0.3,0.7,0.5,0.8,0.4,0.2,0.3,0.6,0.2,0.1,0.3,0.2,0.1,0.2,0.4,0.3,0.1,0.2,0.3,0.5,0.2,0.4,0.3,0.2,0.5,0.3,0.2,0.1,0.3,0.2,0.3,0.1,0.4,0.3,0.2,0.4,0.2];
const rP30 = [2.6,0.9,0.1,0,0.1,0.1,5.6,4.0,2.9,1.6,1.3,0.9,0.7,0.4,0.1,0.1,0.2,0.1,0.3,0.2,0.4,0.3,0.2,0.5,0.3,0.4,0.7,0.5,0.3,0.6,0.4,0.8,0.4,0.2,0.1,0.3,0.2,0.1,0.3,0.2,0.3,0.1,0.2,0.4,0.3,0.2,0.1,0.3,0.2,0.3,0.1,0.2,0.4,0.3,0.2,0.1,0.3,0.2,0.4,0.1,0.2,0.3,0.1,0.2];

const memberTemps = [tP1,tP2,tP3,tP4,tP5,tP6,tP7,tP8,tP9,tP10,tP11,tP12,tP13,tP14,tP15,tP16,tP17,tP18,tP19,tP20,tP21,tP22,tP23,tP24,tP25,tP26,tP27,tP28,tP29,tP30];
const memberRain = [rP1,rP2,rP3,rP4,rP5,rP6,rP7,rP8,rP9,rP10,rP11,rP12,rP13,rP14,rP15,rP16,rP17,rP18,rP19,rP20,rP21,rP22,rP23,rP24,rP25,rP26,rP27,rP28,rP29,rP30];

const FONT = 'DejaVu Sans';
const CLIM_NAME = '1991-2020\nmean';

function mk(name, vals, color, width, axis) {
  return {
    name: name, type: 'line', yAxisIndex: axis,
    data: leadHours.map((h, k) => [h, vals[k]]),
    showSymbol: false, symbol: 'none', color: color,
    lineStyle: { width: width, color: color },
    itemStyle: { color: color },
    silent: true, animation: false
  };
}

const series = [];
memberNames.forEach((n, k) => {
  series.push(mk(n, memberTemps[k], memberColors[k], 1, 0));
  series.push(mk(n, memberRain[k], memberColors[k], 1, 1));
});
series.push(mk(CLIM_NAME, climateMean, '#ea4646', 3.5, 0));
series.push(mk('Control', controlT, '#0a0aff', 3.5, 0));
series.push(mk('Control', controlR, '#0a0aff', 3.5, 1));
series.push(mk('Ens. mean', ensMeanT, '#ffffff', 3.5, 0));
series.push(mk('Ens. mean', ensMeanR, '#ffffff', 3.5, 1));
series.push(mk('Oper', operT, '#12e012', 3.5, 0));
series.push(mk('Oper', operR, '#12e012', 3.5, 1));

const col1 = memberNames.filter((n, k) => k % 2 === 0).concat(['Control']);
const col2 = memberNames.filter((n, k) => k % 2 === 1).concat(['Ens. mean']);
const legText = { color: '#ffffff', fontSize: 10.5, fontFamily: FONT, lineHeight: 15 };
const legBase = { orient: 'vertical', itemGap: 0, itemHeight: 2, icon: 'rect', selectedMode: false, padding: 0, textStyle: legText };
const dash = { color: '#3e3e3e', type: [4, 3], width: 1 };

const chart = echarts.init(document.getElementById('c'), null, { renderer: 'canvas' });
chart.setOption({
  backgroundColor: '#000000',
  animation: false,
  textStyle: { fontFamily: FONT },
  title: [
    { text: 'De Bilt  (NL)  850 hPa Temp. & Neerslag | Wed, 07Jan2026 06Z', left: 155, top: 3, padding: 0,
      textStyle: { color: '#ffffff', fontSize: 16, fontWeight: 'bold', fontFamily: FONT } },
    { text: 'GFS Ensemble, 52N, 5E', left: 120, top: 590, padding: 0,
      textStyle: { color: '#ffffff', fontSize: 16, fontWeight: 'normal', fontFamily: FONT } },
    { text: 'Wetterzentrale.de', left: 650, top: 590, padding: 0,
      textStyle: { color: '#ffffff', fontSize: 16, fontWeight: 'normal', fontFamily: FONT } }
  ],
  legend: [
    Object.assign({}, legBase, { data: col1, left: -2, top: 32.5, itemWidth: 8 }),
    Object.assign({}, legBase, { data: col2, left: 51, top: 32.5, itemWidth: 10 }),
    Object.assign({}, legBase, { data: ['Oper'], left: -2, top: 297.5, itemWidth: 8 }),
    Object.assign({}, legBase, { data: [CLIM_NAME], left: 51, top: 288, itemWidth: 10,
      textStyle: { color: '#ffffff', fontSize: 10.5, fontFamily: FONT, lineHeight: 10 } })
  ],
  grid: { left: 163, right: 40, top: 30, bottom: 61, show: true, borderColor: '#d8d8d8', borderWidth: 1,
    containLabel: false, outerBoundsMode: 'none' },
  xAxis: {
    type: 'value', min: 0, max: 390, interval: 24,
    axisLine: { show: false }, axisTick: { show: false },
    splitLine: { show: true, lineStyle: dash },
    axisLabel: { color: '#ffffff', fontSize: 10.5, fontFamily: FONT, margin: 7,
      formatter: v => (v % 48 === 0 && v / 48 < xTickLabels.length) ? xTickLabels[v / 48] : '' },
    name: 'Date (UTC)', nameLocation: 'middle', nameGap: 25, nameMoveOverlap: false,
    nameTextStyle: { color: '#ffffff', fontSize: 10, fontFamily: FONT }
  },
  yAxis: [
    { type: 'value', min: -30, max: 15, interval: 5, position: 'left',
      axisLine: { show: false }, axisTick: { show: false },
      splitLine: { show: true, lineStyle: dash },
      axisLabel: { color: '#ffffff', fontSize: 10.5, fontFamily: FONT, margin: 9 },
      name: '850 hPa Temp. (°C)', nameLocation: 'middle', nameGap: 26, nameRotate: 90, nameMoveOverlap: false,
      nameTextStyle: { color: '#ffffff', fontSize: 10, fontFamily: FONT } },
    { type: 'value', min: 0, max: 40, interval: 10, position: 'right',
      axisLine: { show: true, lineStyle: { color: '#d8d8d8', width: 1 } },
      axisTick: { show: true, length: 4, lineStyle: { color: '#e0e0e0' } },
      minorTick: { show: true, splitNumber: 10, length: 3, lineStyle: { color: '#e0e0e0' } },
      splitLine: { show: false },
      axisLabel: { color: '#ffffff', fontSize: 10.5, fontFamily: FONT, margin: 7 },
      name: 'Neerslag (mm)', nameLocation: 'middle', nameGap: 24, nameRotate: 90, nameMoveOverlap: false,
      nameTextStyle: { color: '#ffffff', fontSize: 10, fontFamily: FONT } }
  ],
  series: series
});
</script>
</body></html>
